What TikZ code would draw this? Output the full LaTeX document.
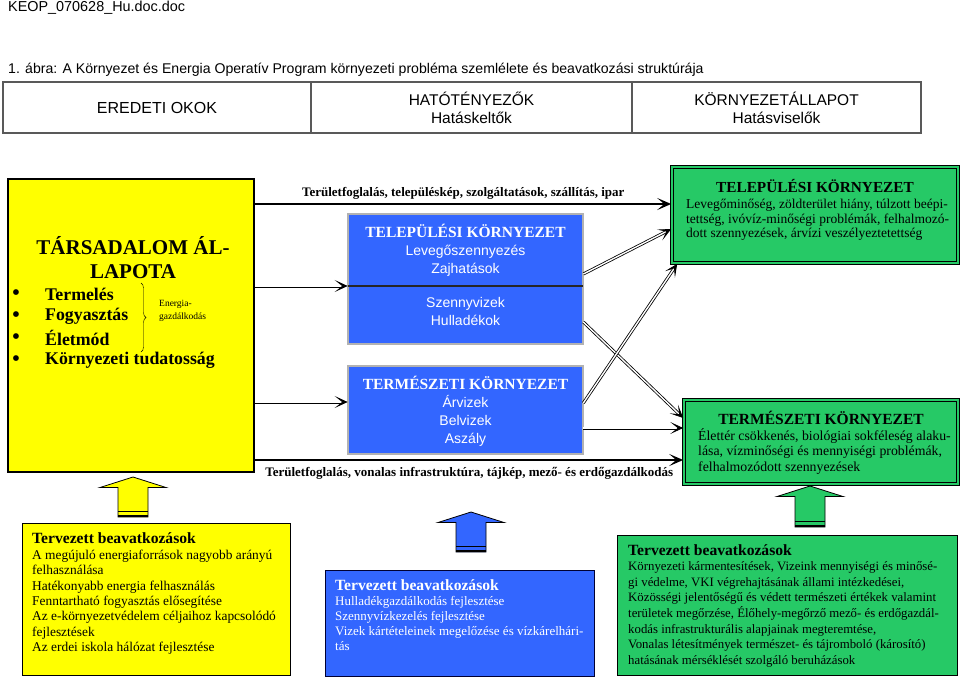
\documentclass[tikz,border=0pt]{standalone}
\usepackage{fontspec}
\setmainfont{Liberation Serif}
\setsansfont{Liberation Sans}
\usepackage{tikz}
\usetikzlibrary{positioning,arrows.meta,decorations.pathreplacing}
\definecolor{sargas}{RGB}{255,255,0}
\definecolor{kek}{RGB}{51,102,255}
\definecolor{zold}{RGB}{38,201,102}

\begin{document}
\begin{tikzpicture}[
    x=1pt, y=-1pt,
    cell/.style={draw=black!65, line width=1.2pt, outer sep=0pt, minimum height=51pt, align=center, font=\sffamily\fontsize{15.5}{18}\selectfont},
    okbox/.style={draw, line width=2.6pt, fill=sargas, minimum width=246pt, minimum height=293pt},
    hatobox/.style={draw=black!85, double=black!30, double distance=1.4pt, line width=0.7pt, fill=kek, minimum width=235pt},
    allapot/.style={draw, double=zold, double distance=1.6pt, line width=1.6pt, fill=zold},
    tervbox/.style={draw, line width=0.8pt, anchor=north west},
    feher/.style={text=white, align=center, inner sep=0pt, font=\sffamily\fontsize{14}{18}\selectfont},
    cimsor/.style={anchor=west, inner sep=0pt, font=\bfseries\fontsize{15.6}{17}\selectfont},
    lista/.style={align=left, inner sep=0pt, font=\fontsize{13.4}{15.4}\selectfont},
    tetel/.style={anchor=west, inner sep=0pt, font=\bfseries\fontsize{17.8}{20}\selectfont},
    vastag/.style={line width=2.6pt, -{Stealth[length=14pt,width=12pt,inset=7pt]}},
    kettos/.style={double=white, double distance=1.4pt, line width=0.8pt, -{Stealth[length=13pt,width=12pt,inset=7.5pt]}}
]
\fill[white] (0,0) rectangle (960,678);
\useasboundingbox (0,0) rectangle (960,678);

\node[anchor=west, inner sep=0pt, font=\sffamily\fontsize{14.4}{16}\selectfont] (fajl) at (8,8) {KEOP\_070628\_Hu.doc.doc};
\node[anchor=west, inner sep=0pt, font=\sffamily\fontsize{14.1}{16}\selectfont] (abra) at (8,70) {1. ábra: A Környezet és Energia Operatív Program környezeti probléma szemlélete és beavatkozási struktúrája};

\node[cell, minimum width=308pt, font=\sffamily\fontsize{16}{18}\selectfont] (okok) at (157,107.5) {EREDETI OKOK};
\node[cell, minimum width=321pt, right=0pt of okok] (hato) {HATÓTÉNYEZŐK\\Hatáskeltők};
\node[cell, minimum width=289pt, right=0pt of hato] (allap) {KÖRNYEZETÁLLAPOT\\Hatásviselők};

\foreach \cx/\tip/\szin/\alj in {133/477/sargas/517, 471/512/kek/552, 810/486/zold/527}{
  \draw[fill=\szin, line width=0.8pt] (\cx,\tip) -- ({\cx+33},{\tip+10.5}) -- ({\cx+15},{\tip+10.5}) -- ({\cx+15},\alj) -- ({\cx-15},\alj) -- ({\cx-15},{\tip+10.5}) -- ({\cx-33},{\tip+10.5}) -- cycle;
  \draw[line width=2.4pt] ({\cx-15},{\alj-1}) -- ({\cx+15},{\alj-1});
  \draw[line width=1pt] ({\cx-15},{\alj-5.5}) -- ({\cx+15},{\alj-5.5});
}

\node[okbox] (tars) at (131,325.5) {};
\node[align=center, inner sep=0pt, font=\bfseries\fontsize{21}{24}\selectfont] (tarscim) at (133,258) {TÁRSADALOM ÁL-\\LAPOTA};
\foreach \elem [count=\i] in {Termelés, Fogyasztás, Életmód, Környezeti tudatosság}{
  \node[inner sep=0pt, font=\fontsize{24}{24}\selectfont] (p\i) at (16,{273+22*\i}) {\textbullet};
  \node[tetel] (e\i) at (45,{272+22*\i}) {\elem};
}
\draw[decorate, decoration={brace, amplitude=5pt}] (141,283) -- (141,352);
\node[anchor=west, align=left, inner sep=0pt, font=\fontsize{9.5}{13}\selectfont] (energia) at (159,311) {Energia-\\gazdálkodás};

\node[hatobox, minimum height=130pt] (b1) at (465.5,279) {};
\draw[black!85, line width=1.2pt] ([yshift=-7pt]b1.west) -- ([yshift=-7pt]b1.east);
\node[feher] (b1fent) at (465.5,250) {{\rmfamily\bfseries\fontsize{15.5}{18}\selectfont TELEPÜLÉSI KÖRNYEZET}\\Levegőszennyezés\\Zajhatások};
\node[feher] (b1lent) at (465.5,311) {Szennyvizek\\Hulladékok};
\node[hatobox, minimum height=88pt] (b2) at (465.5,410) {};
\node[feher] (b2szoveg) at (465.5,411) {{\rmfamily\bfseries\fontsize{15.5}{18}\selectfont TERMÉSZETI KÖRNYEZET}\\Árvizek\\Belvizek\\Aszály};

\node[allapot, minimum width=286pt, minimum height=96pt] (g1) at (815,215) {};
\node[inner sep=0pt, font=\bfseries\fontsize{15.3}{16}\selectfont] (g1cim) at (815,186) {TELEPÜLÉSI KÖRNYEZET};
\node[lista, anchor=north west, font=\fontsize{13.5}{14.6}\selectfont] (g1szoveg) at (686,199) {Levegőminőség, zöldterület hiány, túlzott beépi-\\tettség, ivóvíz-minőségi problémák, felhalmozó-\\dott szennyezések, árvízi veszélyeztetettség};
\node[allapot, minimum width=274pt, minimum height=84pt] (g2) at (821,442) {};
\node[inner sep=0pt, font=\bfseries\fontsize{15.5}{16}\selectfont] (g2cim) at (821,418) {TERMÉSZETI KÖRNYEZET};
\node[lista, anchor=north west, font=\fontsize{13.8}{15.5}\selectfont] (g2szoveg) at (698,428) {Élettér csökkenés, biológiai sokféleség alaku-\\lása, vízminőségi és mennyiségi problémák,\\felhalmozódott szennyezések};

\draw[vastag] ([yshift=121.5pt]tars.east) -- node[above=3pt, inner sep=0pt, font=\bfseries\fontsize{13}{14}\selectfont] (felso) {Területfoglalás, településkép, szolgáltatások, szállítás, ipar} ([yshift=11pt]g1.west);
\draw[vastag] ([yshift=-134.5pt]tars.east) -- node[below=6pt, inner sep=0pt, font=\bfseries\fontsize{13}{14}\selectfont] (also) {Területfoglalás, vonalas infrastruktúra, tájkép, mező- és erdőgazdálkodás} ([yshift=-18pt]g2.west);
\draw[kettos] ([yshift=39.5pt]tars.east) -- ([yshift=-7pt]b1.west);
\draw[kettos] ([yshift=-76.5pt]tars.east) -- ([yshift=8pt]b2.west);
\draw[kettos] ([yshift=5pt]b1.east) -- ([yshift=-14pt]g1.west);
\draw[kettos] ([yshift=-43pt]b1.east) -- ([yshift=24pt]g2.west);
\draw[kettos] ([yshift=7pt]b2.east) -- ([xshift=6pt]g1.south west);
\draw[kettos] ([yshift=-18pt]b2.east) -- ([yshift=14pt]g2.west);

\node[tervbox, fill=sargas, minimum width=268pt, minimum height=152pt] (tb1) at (22,523) {};
\node[cimsor] (tc1) at (32,538) {Tervezett beavatkozások};
\node[lista, below=6pt of tc1.south west, anchor=north west] (tl1) {A megújuló energiaforrások nagyobb arányú\\felhasználása\\Hatékonyabb energia felhasználás\\Fenntartható fogyasztás elősegítése\\Az e-környezetvédelem céljaihoz kapcsolódó\\fejlesztések\\Az erdei iskola hálózat fejlesztése};

\node[tervbox, draw=black!80!blue, fill=kek, minimum width=269pt, minimum height=106pt] (tb2) at (325,570) {};
\node[cimsor, text=white] (tc2) at (335,585) {Tervezett beavatkozások};
\node[lista, text=white, font=\fontsize{13}{15.3}\selectfont, below=5pt of tc2.south west, anchor=north west] (tl2) {Hulladékgazdálkodás fejlesztése\\Szennyvízkezelés fejlesztése\\Vizek kártételeinek megelőzése és vízkárelhári-\\tás};

\node[tervbox, fill=zold, minimum width=340pt, minimum height=140pt] (tb3) at (617,535) {};
\node[cimsor] (tc3) at (628,550) {Tervezett beavatkozások};
\node[lista, font=\fontsize{12.8}{15.7}\selectfont, below=5.5pt of tc3.south west, anchor=north west] (tl3) {Környezeti kármentesítések, Vizeink mennyiségi és minősé-\\gi védelme, VKI végrehajtásának állami intézkedései,\\Közösségi jelentőségű és védett természeti értékek valamint\\területek megőrzése, Élőhely-megőrző mező- és erdőgazdál-\\kodás infrastrukturális alapjainak megteremtése,\\Vonalas létesítmények természet- és tájromboló (károsító)\\hatásának mérséklését szolgáló beruházások};
\end{tikzpicture}
\end{document}
